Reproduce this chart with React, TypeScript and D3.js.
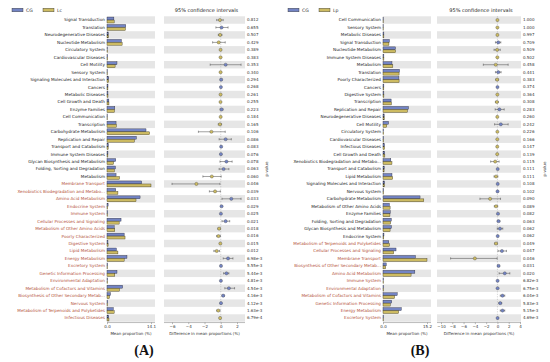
import { useEffect, useRef } from "react";
import * as d3 from "d3";

// ---- panel A : CG vs Lc ----
const labelsA = [
  "Signal Transduction", "Translation", "Neurodegenerative Diseases", "Nucleotide Metabolism",
  "Circulatory System", "Cardiovascular Diseases", "Cell Motility", "Sensory System",
  "Signaling Molecules and Interaction", "Cancers", "Metabolic Diseases", "Cell Growth and Death",
  "Enzyme Families", "Cell Communication", "Transcription", "Carbohydrate Metabolism",
  "Replication and Repair", "Transport and Catabolism", "Immune System Diseases",
  "Glycan Biosynthesis and Metabolism", "Folding, Sorting and Degradation", "Metabolism",
  "Membrane Transport", "Xenobiotics Biodegradation and Metabo...", "Amino Acid Metabolism",
  "Endocrine System", "Immune System", "Cellular Processes and Signaling",
  "Metabolism of Other Amino Acids", "Poorly Characterized", "Digestive System", "Lipid Metabolism",
  "Energy Metabolism", "Excretory System", "Genetic Information Processing",
  "Environmental Adaptation", "Metabolism of Cofactors and Vitamins",
  "Biosynthesis of Other Secondary Metab...", "Nervous System",
  "Metabolism of Terpenoids and Polyketides", "Infectious Diseases",
];
const cgA = [2.2, 6.0, 0.4, 4.6, 0.15, 0.2, 3.2, 0.1, 0.55, 0.32, 0.3, 0.6, 2.5, 0.1, 2.9, 12.5, 9.4, 0.42, 0.3, 2.8, 2.7, 2.9, 11.1, 2.8, 10.6, 0.35, 0.2, 4.5, 2.3, 5.5, 0.3, 3.0, 6.4, 0.2, 3.2, 0.22, 5.0, 1.1, 0.22, 2.0, 0.55];
const lcA = [2.3, 5.9, 0.48, 4.85, 0.17, 0.22, 2.6, 0.12, 0.5, 0.3, 0.32, 0.63, 2.4, 0.11, 3.0, 13.65, 8.8, 0.37, 0.28, 2.1, 2.35, 4.0, 14.1, 3.5, 9.3, 0.25, 0.18, 3.9, 2.5, 5.78, 0.35, 3.5, 5.5, 0.17, 2.5, 0.2, 4.0, 0.8, 0.19, 2.3, 0.63];
const diffA = [-0.1, 0.1, -0.08, -0.25, -0.02, -0.02, 0.6, -0.02, 0.05, 0.02, -0.02, -0.03, 0.1, -0.01, -0.1, -1.15, 0.6, 0.05, 0.02, 0.7, 0.35, -1.1, -3.0, -0.7, 1.3, 0.1, 0.02, 0.6, -0.2, -0.28, -0.05, -0.5, 0.9, 0.03, 0.7, 0.02, 1.0, 0.3, 0.03, -0.3, -0.08];
const lowA = [-0.5, -0.6, -0.3, -1.0, -0.08, -0.07, -1.3, -0.06, -0.05, -0.03, -0.07, -0.1, -0.08, -0.03, -0.3, -2.75, -0.2, -0.02, -0.01, -0.1, -0.2, -2.2, -6.0, -1.4, 0.15, 0.02, 0.005, 0.15, -0.35, -0.5, -0.09, -0.85, 0.3, 0.01, 0.35, 0.01, 0.5, 0.15, 0.01, -0.5, -0.12];
const highA = [0.3, 0.9, 0.15, 0.55, 0.04, 0.03, 2.5, 0.02, 0.15, 0.07, 0.03, 0.04, 0.28, 0.01, 0.1, 0.55, 1.3, 0.12, 0.05, 1.4, 1.0, 0.05, -0.1, -0.05, 2.5, 0.18, 0.035, 1.1, -0.05, -0.05, -0.01, -0.15, 1.5, 0.05, 1.0, 0.03, 1.7, 0.45, 0.05, -0.1, -0.04];
const pA = [0.812, 0.655, 0.507, 0.429, 0.389, 0.383, 0.353, 0.34, 0.294, 0.268, 0.261, 0.255, 0.223, 0.184, 0.165, 0.106, 0.086, 0.083, 0.076, 0.078, 0.063, 0.06, 0.046, 0.039, 0.033, 0.029, 0.025, 0.021, 0.018, 0.016, 0.015, 0.012, 6.98e-3, 5.55e-3, 5.44e-3, 4.81e-3, 4.54e-3, 4.16e-3, 4.12e-3, 1.63e-3, 6.79e-4];
const ticksA = [-6, -4, -2, 0, 2];

// ---- panel B : CG vs Lp ----
const labelsB = [
  "Cell Communication", "Sensory System", "Metabolic Diseases", "Signal Transduction",
  "Nucleotide Metabolism", "Immune System Diseases", "Metabolism", "Translation",
  "Poorly Characterized", "Cancers", "Digestive System", "Transcription", "Replication and Repair",
  "Neurodegenerative Diseases", "Cell Motility", "Circulatory System", "Cardiovascular Diseases",
  "Infectious Diseases", "Cell Growth and Death", "Xenobiotics Biodegradation and Metabo...",
  "Transport and Catabolism", "Lipid Metabolism", "Signaling Molecules and Interaction",
  "Nervous System", "Carbohydrate Metabolism", "Metabolism of Other Amino Acids", "Enzyme Families",
  "Folding, Sorting and Degradation", "Glycan Biosynthesis and Metabolism", "Endocrine System",
  "Metabolism of Terpenoids and Polyketides", "Cellular Processes and Signaling",
  "Membrane Transport", "Biosynthesis of Other Secondary Metab...", "Amino Acid Metabolism",
  "Immune System", "Environmental Adaptation", "Metabolism of Cofactors and Vitamins",
  "Genetic Information Processing", "Energy Metabolism", "Excretory System",
];
const cgB = [0.1, 0.1, 0.3, 2.2, 4.3, 0.3, 3.1, 5.7, 5.5, 0.3, 0.3, 2.8, 8.8, 0.4, 1.9, 0.2, 0.2, 0.5, 0.6, 2.7, 0.42, 3.1, 0.55, 0.22, 12.8, 2.2, 2.5, 2.85, 2.9, 0.33, 2.0, 4.5, 11.2, 1.1, 11.0, 0.2, 0.22, 4.9, 3.0, 6.3, 0.2];
const lpB = [0.1, 0.1, 0.3, 2.05, 4.35, 0.31, 3.4, 5.55, 5.55, 0.29, 0.31, 2.9, 8.45, 0.42, 1.3, 0.21, 0.22, 0.53, 0.64, 3.1, 0.37, 3.35, 0.5, 0.2, 14.1, 2.45, 2.4, 2.65, 2.45, 0.28, 2.25, 3.7, 15.2, 0.9, 9.7, 0.17, 0.19, 4.0, 2.5, 5.4, 0.17];
const diffB = [0.0, 0.0, -0.005, 0.15, -0.05, -0.01, -0.3, 0.15, -0.05, 0.01, -0.01, -0.1, 0.35, -0.02, 0.6, -0.01, -0.02, -0.03, -0.04, -0.4, 0.05, -0.25, 0.05, 0.02, -1.3, -0.25, 0.1, 0.2, 0.45, 0.05, -0.25, 0.8, -4.0, 0.2, 1.3, 0.03, 0.03, 0.9, 0.5, 0.9, 0.03];
const lowB = [-0.02, -0.02, -0.04, -0.35, -0.6, -0.05, -2.5, -0.35, -0.3, -0.02, -0.04, -0.35, -0.4, -0.07, -0.5, -0.03, -0.05, -0.07, -0.09, -1.2, -0.01, -0.6, -0.01, -0.005, -3.1, -0.55, -0.02, -0.02, -0.03, 0.0, -0.5, 0.1, -8.3, 0.02, 0.3, 0.01, 0.01, 0.5, 0.25, 0.5, 0.01];
const highB = [0.02, 0.02, 0.03, 0.6, 0.5, 0.03, 1.9, 0.65, 0.2, 0.04, 0.02, 0.15, 1.2, 0.03, 1.9, 0.01, 0.01, 0.01, 0.01, 0.3, 0.11, 0.08, 0.11, 0.045, 0.55, 0.05, 0.22, 0.42, 0.95, 0.1, -0.01, 1.6, -0.05, 0.38, 2.2, 0.05, 0.05, 1.3, 0.75, 1.3, 0.05];
const pB = [1.0, 1.0, 0.997, 0.709, 0.509, 0.502, 0.458, 0.441, 0.383, 0.374, 0.364, 0.308, 0.283, 0.26, 0.242, 0.226, 0.166, 0.147, 0.139, 0.115, 0.111, 0.111, 0.108, 0.102, 0.09, 0.089, 0.082, 0.063, 0.062, 0.062, 0.049, 0.047, 0.046, 0.031, 0.02, 6.82e-3, 6.75e-3, 6.04e-3, 5.83e-3, 5.15e-3, 4.69e-3];
const ticksB = [-10, -8, -6, -4, -2, 0, 2, 4];

const CG_COLOR = "#7384c4";
const TRT_COLOR = "#cdbb62";
const SIG_COLOR = "#b4533a";
const BAND = "#e6e6e6";
const FONT = "DejaVu Sans, sans-serif";

interface Panel {
  tag: string;
  group2: string;
  labels: string[];
  g1: number[];
  g2: number[];
  diff: number[];
  low: number[];
  high: number[];
  p: number[];
  ticks: number[];
  barMax: number;
  labelRight: number;
  barX: [number, number, number]; // start, max tick, band end
  ciBand: [number, number];
  ciTicks: [number, number, number, number]; // value a, px a, value b, px b
  pX: number;
  pLabelX: number;
  legendX: number;
}

const fmtP = (p: number) => (p < 0.01 ? p.toExponential(2) : p.toFixed(3));

function drawPanel(root: d3.Selection<SVGGElement, unknown, null, undefined>, cfg: Panel) {
  const n = cfg.labels.length;
  const rowTop = 16.3;
  const step = 7.45;
  const y = d3.scaleBand<number>().domain(d3.range(n)).range([rowTop, rowTop + n * step]).padding(0);
  const yc = (i: number) => (y(i) as number) + step / 2;
  const bottom = rowTop + n * step;

  const xBar = d3.scaleLinear().domain([0, cfg.barMax]).range([cfg.barX[0], cfg.barX[1]]);
  const [va, pa, vb, pb] = cfg.ciTicks;
  const xCi = d3.scaleLinear().domain([va, vb]).range([pa, pb]);

  const g = root.append("g");

  // gray stripes
  const even = d3.range(n).filter((i) => i % 2 === 0);
  g.selectAll(".bandBar")
    .data(even)
    .enter()
    .append("rect")
    .attr("x", cfg.barX[0])
    .attr("y", (i) => y(i) as number)
    .attr("width", cfg.barX[2] - cfg.barX[0])
    .attr("height", step)
    .attr("fill", BAND);
  g.selectAll(".bandCi")
    .data(even)
    .enter()
    .append("rect")
    .attr("x", cfg.ciBand[0])
    .attr("y", (i) => y(i) as number)
    .attr("width", cfg.ciBand[1] - cfg.ciBand[0])
    .attr("height", step)
    .attr("fill", BAND);

  // row labels
  g.selectAll(".lab")
    .data(cfg.labels)
    .enter()
    .append("text")
    .attr("x", cfg.labelRight)
    .attr("y", (_, i) => yc(i))
    .attr("dy", "0.35em")
    .attr("text-anchor", "end")
    .attr("font-size", 4.2)
    .attr("font-family", FONT)
    .attr("fill", (_, i) => (cfg.p[i] < 0.05 ? SIG_COLOR : "#222"))
    .text((d) => d);

  // bars
  const bh = 2.9;
  g.selectAll(".b1")
    .data(cfg.g1)
    .enter()
    .append("rect")
    .attr("x", xBar(0))
    .attr("y", (_, i) => yc(i) - bh - 0.05)
    .attr("width", (d) => xBar(d) - xBar(0))
    .attr("height", bh)
    .attr("fill", CG_COLOR)
    .attr("stroke", "#2b2b3a")
    .attr("stroke-width", 0.4);
  g.selectAll(".b2")
    .data(cfg.g2)
    .enter()
    .append("rect")
    .attr("x", xBar(0))
    .attr("y", (_, i) => yc(i) + 0.05)
    .attr("width", (d) => xBar(d) - xBar(0))
    .attr("height", bh)
    .attr("fill", TRT_COLOR)
    .attr("stroke", "#3a3520")
    .attr("stroke-width", 0.4);

  // zero line
  g.append("line")
    .attr("x1", xCi(0))
    .attr("x2", xCi(0))
    .attr("y1", rowTop)
    .attr("y2", bottom)
    .attr("stroke", "#888")
    .attr("stroke-width", 0.4)
    .attr("stroke-dasharray", "1,1.5");

  // confidence intervals
  const ci = g.selectAll(".ci").data(cfg.diff).enter().append("g");
  ci.append("line")
    .attr("x1", (_, i) => xCi(cfg.low[i]))
    .attr("x2", (_, i) => xCi(cfg.high[i]))
    .attr("y1", (_, i) => yc(i))
    .attr("y2", (_, i) => yc(i))
    .attr("stroke", "#444")
    .attr("stroke-width", 0.5);
  [cfg.low, cfg.high].forEach((arr) => {
    ci.append("line")
      .attr("x1", (_, i) => xCi(arr[i]))
      .attr("x2", (_, i) => xCi(arr[i]))
      .attr("y1", (_, i) => yc(i) - 1.1)
      .attr("y2", (_, i) => yc(i) + 1.1)
      .attr("stroke", "#444")
      .attr("stroke-width", 0.5);
  });
  ci.append("circle")
    .attr("cx", (d) => xCi(d))
    .attr("cy", (_, i) => yc(i))
    .attr("r", 1.6)
    .attr("fill", (d) => (d > 0 ? CG_COLOR : TRT_COLOR))
    .attr("stroke", "#444")
    .attr("stroke-width", 0.35);

  // p-values
  g.selectAll(".pv")
    .data(cfg.p)
    .enter()
    .append("text")
    .attr("x", cfg.pX)
    .attr("y", (_, i) => yc(i))
    .attr("dy", "0.35em")
    .attr("font-size", 4)
    .attr("font-family", FONT)
    .attr("fill", "#333")
    .text((d) => fmtP(d));

  g.append("text")
    .attr("transform", `translate(${cfg.pLabelX},${yc(20)}) rotate(-90)`)
    .attr("text-anchor", "middle")
    .attr("font-size", 4)
    .attr("font-family", FONT)
    .attr("fill", "#333")
    .text("p-value");

  // title
  g.append("text")
    .attr("x", (cfg.ciBand[0] + cfg.ciBand[1]) / 2 + 2)
    .attr("y", 10)
    .attr("dy", "0.35em")
    .attr("text-anchor", "middle")
    .attr("font-size", 5)
    .attr("font-family", FONT)
    .attr("fill", "#222")
    .text("95% confidence intervals");

  // legend
  const lg = g.append("g").attr("transform", `translate(${cfg.legendX},10)`);
  [
    { name: "CG", color: CG_COLOR, dx: 0 },
    { name: cfg.group2, color: TRT_COLOR, dx: 31 },
  ].forEach((d) => {
    lg.append("rect")
      .attr("x", d.dx)
      .attr("y", -1.8)
      .attr("width", 11)
      .attr("height", 3.6)
      .attr("fill", d.color)
      .attr("stroke", "#333")
      .attr("stroke-width", 0.4);
    lg.append("text")
      .attr("x", d.dx + 14)
      .attr("y", 0)
      .attr("dy", "0.35em")
      .attr("font-size", 4.6)
      .attr("font-family", FONT)
      .attr("fill", "#333")
      .text(d.name);
  });

  // bar axis
  const axY = bottom + 0.8;
  const barAxis = d3
    .axisBottom(xBar)
    .tickValues([0, cfg.barMax])
    .tickFormat((d) => (+d).toFixed(1))
    .tickSize(1.6)
    .tickPadding(1.5);
  const ga = g.append("g").attr("transform", `translate(0,${axY})`).call(barAxis);
  ga.select(".domain").attr("d", `M${cfg.barX[0]},0H${cfg.barX[2]}`);

  const ciAxis = d3.axisBottom(xCi).tickValues(cfg.ticks).tickSize(1.6).tickPadding(1.5).tickFormat((d) => `${d}`.replace("-", "\u2212"));
  const gc = g.append("g").attr("transform", `translate(0,${axY})`).call(ciAxis);
  gc.select(".domain").attr("d", `M${cfg.ciBand[0]},0H${cfg.ciBand[1]}`);

  [ga, gc].forEach((a) => {
    a.selectAll("text").attr("font-size", 4).attr("font-family", FONT).attr("fill", "#333");
    a.selectAll("line").attr("stroke", "#555").attr("stroke-width", 0.4);
    a.select(".domain").attr("stroke", "#555").attr("stroke-width", 0.4);
  });

  g.append("text")
    .attr("x", (cfg.barX[0] + cfg.barX[2]) / 2)
    .attr("y", axY + 12.5)
    .attr("text-anchor", "middle")
    .attr("font-size", 4)
    .attr("font-family", FONT)
    .attr("fill", "#333")
    .text("Mean proportion (%)");
  g.append("text")
    .attr("x", (cfg.ciBand[0] + cfg.ciBand[1]) / 2)
    .attr("y", axY + 12.5)
    .attr("text-anchor", "middle")
    .attr("font-size", 4)
    .attr("font-family", FONT)
    .attr("fill", "#333")
    .text("Difference in mean proportions (%)");

  // panel tag
  g.append("text")
    .attr("x", (cfg.barX[0] + cfg.ciBand[1]) / 2 - 32)
    .attr("y", 355)
    .attr("text-anchor", "middle")
    .attr("font-size", 14)
    .attr("font-weight", "bold")
    .attr("font-family", "Liberation Serif, serif")
    .attr("fill", "#111")
    .text(cfg.tag);
}

const App = () => {
  const svgRef = useRef<SVGSVGElement | null>(null);

  useEffect(() => {
    if (!svgRef.current) return;
    const svg = d3.select(svgRef.current);
    svg.selectAll("*").remove();
    const root = svg.append("g");

    drawPanel(root, {
      tag: "(A)",
      group2: "Lc",
      labels: labelsA,
      g1: cgA,
      g2: lcA,
      diff: diffA,
      low: lowA,
      high: highA,
      p: pA,
      ticks: ticksA,
      barMax: 14.1,
      labelRight: 105,
      barX: [107, 151, 155],
      ciBand: [164, 245],
      ciTicks: [-6, 172, 2, 237],
      pX: 247,
      pLabelX: 268,
      legendX: 12,
    });

    drawPanel(root, {
      tag: "(B)",
      group2: "Lp",
      labels: labelsB,
      g1: cgB,
      g2: lpB,
      diff: diffB,
      low: lowB,
      high: highB,
      p: pB,
      ticks: ticksB,
      barMax: 15.2,
      labelRight: 381,
      barX: [383, 427, 431],
      ciBand: [437, 521],
      ciTicks: [-10, 441, 4, 520],
      pX: 523,
      pLabelX: 546,
      legendX: 288,
    });
  }, []);

  return (
    <svg
      ref={svgRef}
      width={550}
      height={362}
      style={{ position: "absolute", left: 0, top: 0, background: "#fff" }}
    />
  );
};

export default App;
